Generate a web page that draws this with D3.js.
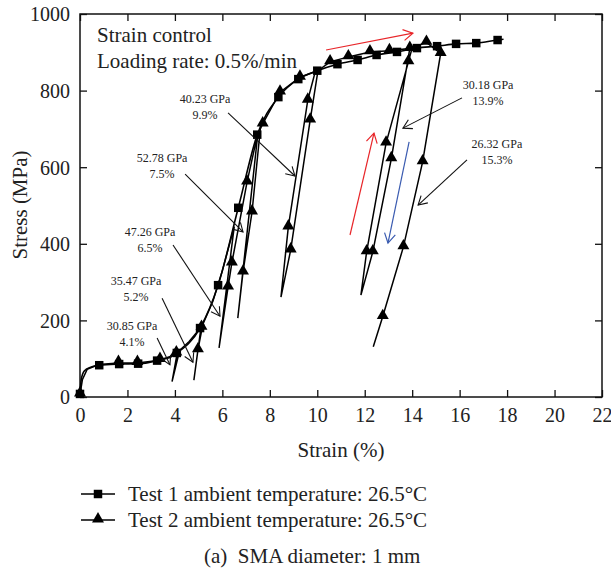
<!DOCTYPE html>
<html><head><meta charset="utf-8">
<script src="https://cdn.jsdelivr.net/npm/d3@7"></script>
<style>
html,body{margin:0;padding:0;background:#fff;}
text{font-family:"Liberation Serif","Times New Roman",serif;fill:#222;}
</style>
</head><body>
<svg id="chart" width="611" height="575"></svg>
<script>
// ---------------- data ----------------
const strainTicks = [0,2,4,6,8,10,12,14,16,18,20,22];
const stressTicks = [0,200,400,600,800,1000];

// Test 1 (squares): curve vertices and marker points
const test1LineStrain = [0,0.05,0.18,0.45,0.81,1.65,2.45,3.25,4.08,5.06,5.82,6.67,7.47,8.36,9.2,10.0,10.85,11.7,12.5,13.36,14.2,15.05,15.85,16.7,17.6,17.85];
const test1LineStress = [5,45,68,78,83,86,87,95,115,180,292,494,685,783,830,852,869,880,893,901,911,916,922,924,932,934];
const test1Strain = [0,0.81,1.65,2.45,3.25,4.08,5.06,5.82,6.67,7.47,8.36,9.2,10.0,10.85,11.7,12.5,13.36,14.2,15.05,15.85,16.7,17.6];
const test1Stress = [8,83,86,87,95,115,180,292,494,685,783,830,852,869,880,893,901,911,916,922,924,932];

// Test 2 (triangles): loading / unloading path and marker points
const test2LineStrain = [0,0.1,0.3,0.8,1.6,2.4,3.3,3.8,4.1,3.88,4.2,4.6,5.1,4.8,4.97,5.18,5.6,6.0,6.5,5.86,6.24,6.4,7.04,7.5,6.65,6.87,7.25,7.6,7.7,8.43,9.27,10.03,9.7,8.88,8.47,8.78,9.6,9.9,10.54,11.31,12.22,13.04,13.9,13.12,12.34,11.84,12.08,12.9,13.84,14.0,14.6,15.2,14.44,13.63,12.76,12.36];
const test2LineStress = [6,45,72,85,89,89,95,103,116,40,122,145,182,44,123,190,250,330,445,128,287,350,561,690,206,326,483,700,713,796,835,852,723,384,261,444,775,846,875,888,901,904,910,622,379,266,379,663,875,912,926,897,614,392,210,131];
const test2Strain = [0,1.62,2.42,3.37,4.06,4.97,5.12,6.24,6.4,6.87,7.04,7.25,7.7,8.43,9.27,8.78,8.88,9.6,9.7,10.54,11.31,12.22,13.04,13.9,13.84,12.08,12.34,12.9,13.12,14.6,15.2,14.44,13.63,12.76];
const test2Stress = [8,90,90,98,115,123,182,287,350,326,561,483,713,796,835,444,384,775,723,875,888,901,904,910,875,379,379,663,622,926,897,614,392,210];

// Annotations (modulus / unloading strain), positions in data units
const annoModulus = ["40.23 GPa","52.78 GPa","47.26 GPa","35.47 GPa","30.85 GPa","30.18 GPa","26.32 GPa"];
const annoStrainLabel = ["9.9%","7.5%","6.5%","5.2%","4.1%","13.9%","15.3%"];
const annoTextX = [5.27,3.46,2.95,2.36,2.19,17.2,17.57];
const annoTextY = [768,614,420,292,175,804,650];
const annoFromX = [6.24,4.43,3.92,3.46,3.25,16.1,16.31];
const annoFromY = [742,582,397,258,154,781,619];
const annoToX = [9.06,6.87,5.9,4.76,3.79,13.61,14.25];
const annoToY = [577,431,211,91,84,702,501];

// direction arrows
const dirArrowColor = ["#e8262a","#e8262a","#3a5bb0"];
const dirFromX = [10.37,11.38,13.87];
const dirFromY = [906,423,666];
const dirToX = [14.03,12.39,12.98];
const dirToY = [950,689,402];

const legendLabels = ["Test 1 ambient temperature: 26.5\u00B0C","Test 2 ambient temperature: 26.5\u00B0C"];

// ---------------- drawing ----------------
const svg = d3.select("#chart");
const x0 = 80, x1 = 602, yTop = 14, yBot = 397;
const x = d3.scaleLinear().domain([0,22]).range([x0,x1]);
const y = d3.scaleLinear().domain([0,1000]).range([yBot,yTop]);

const fs = 20;
// axes
const gB = svg.append("g").attr("transform",`translate(0,${yBot})`)
  .call(d3.axisBottom(x).tickValues(strainTicks).tickFormat(d3.format("d")).tickSizeInner(-7).tickSizeOuter(0).tickPadding(14));
const gL = svg.append("g").attr("transform",`translate(${x0},0)`)
  .call(d3.axisLeft(y).tickValues(stressTicks).tickFormat(d3.format("d")).tickSizeInner(-7).tickSizeOuter(0).tickPadding(10));
const gT = svg.append("g").attr("transform",`translate(0,${yTop})`)
  .call(d3.axisTop(x).tickValues(strainTicks).tickSizeInner(-7).tickSizeOuter(0).tickFormat(""));
const gR = svg.append("g").attr("transform",`translate(${x1},0)`)
  .call(d3.axisRight(y).tickValues(stressTicks).tickSizeInner(-7).tickSizeOuter(0).tickFormat(""));
[gB,gL,gT,gR].forEach(g=>{
  g.select(".domain").remove();
  g.selectAll(".tick line").attr("stroke","#111").attr("stroke-width",1.3);
  g.selectAll(".tick text").attr("font-family","Liberation Serif, serif").attr("font-size",fs).attr("fill","#222");
});
gB.selectAll(".tick text").attr("dy","0.55em");
gL.selectAll(".tick text").attr("dy","0.34em");

svg.append("rect").attr("x",x0).attr("y",yTop).attr("width",x1-x0).attr("height",yBot-yTop)
  .attr("fill","none").attr("stroke","#111").attr("stroke-width",1.5);

// axis titles
svg.append("text").attr("x",341).attr("y",457).attr("text-anchor","middle").attr("font-size",21).text("Strain (%)");
svg.append("text").attr("transform","translate(27,205) rotate(-90)").attr("text-anchor","middle").attr("font-size",21).text("Stress (MPa)");

// top-left notes
svg.append("text").attr("x",97).attr("y",42).attr("font-size",21).text("Strain control");
svg.append("text").attr("x",97).attr("y",68).attr("font-size",21).text("Loading rate: 0.5%/min");

// lines
const t1 = test1LineStrain.map((s,i)=>[s,test1LineStress[i]]);
const t2 = test2LineStrain.map((s,i)=>[s,test2LineStress[i]]);
svg.append("path").attr("d",d3.line().x(d=>x(d[0])).y(d=>y(d[1])).curve(d3.curveMonotoneX)(t1))
  .attr("fill","none").attr("stroke","#000").attr("stroke-width",1.6);
svg.append("path").attr("d",d3.line().x(d=>x(d[0])).y(d=>y(d[1]))(t2))
  .attr("fill","none").attr("stroke","#000").attr("stroke-width",1.5);

const sqSym = d3.symbol().type(d3.symbolSquare).size(72);
const triSym = d3.symbol().type(d3.symbolTriangle).size(62);
svg.append("g").selectAll("path").data(test1Strain.map((s,i)=>[s,test1Stress[i]])).join("path")
  .attr("d",sqSym).attr("transform",d=>`translate(${x(d[0])},${y(d[1])})`).attr("fill","#000");
svg.append("g").selectAll("path").data(test2Strain.map((s,i)=>[s,test2Stress[i]])).join("path")
  .attr("d",triSym).attr("transform",d=>`translate(${x(d[0])},${y(d[1])-1})`).attr("fill","#000");

// arrows helper
function arrow(g,xa,ya,xb,yb,color,w,head){
  g.append("line").attr("x1",xa).attr("y1",ya).attr("x2",xb).attr("y2",yb).attr("stroke",color).attr("stroke-width",w);
  const ang = Math.atan2(yb-ya,xb-xa), a = Math.PI/6;
  const p1=[xb-head*Math.cos(ang-a), yb-head*Math.sin(ang-a)];
  const p2=[xb-head*Math.cos(ang+a), yb-head*Math.sin(ang+a)];
  g.append("path").attr("d",`M${p1[0]},${p1[1]}L${xb},${yb}L${p2[0]},${p2[1]}`).attr("fill","none").attr("stroke",color).attr("stroke-width",w);
}
const ga = svg.append("g");
annoModulus.forEach((m,i)=>{
  ga.append("text").attr("x",x(annoTextX[i])).attr("y",y(annoTextY[i])).attr("text-anchor","middle").attr("font-size",12).text(m);
  ga.append("text").attr("x",x(annoTextX[i])).attr("y",y(annoTextY[i])+16).attr("text-anchor","middle").attr("font-size",12).text(annoStrainLabel[i]);
  arrow(ga,x(annoFromX[i]),y(annoFromY[i]),x(annoToX[i]),y(annoToY[i]),"#111",1.1,10);
});
dirArrowColor.forEach((c,i)=>{
  arrow(ga,x(dirFromX[i]),y(dirFromY[i]),x(dirToX[i]),y(dirToY[i]),c,1.2,11);
});

// legend
const gl = svg.append("g");
legendLabels.forEach((lab,i)=>{
  const ly = 494 + i*26;
  gl.append("line").attr("x1",81).attr("x2",115).attr("y1",ly).attr("y2",ly).attr("stroke","#000").attr("stroke-width",1.6);
  gl.append("path").attr("d",i===0?sqSym():triSym()).attr("transform",`translate(98,${ly-(i===0?0:1)})`).attr("fill","#000");
  gl.append("text").attr("x",128).attr("y",ly+7).attr("font-size",21).text(lab);
});
svg.append("text").attr("x",204).attr("y",563).attr("font-size",21).attr("xml:space","preserve").text("(a)  SMA diameter: 1 mm");
</script>
</body></html>
